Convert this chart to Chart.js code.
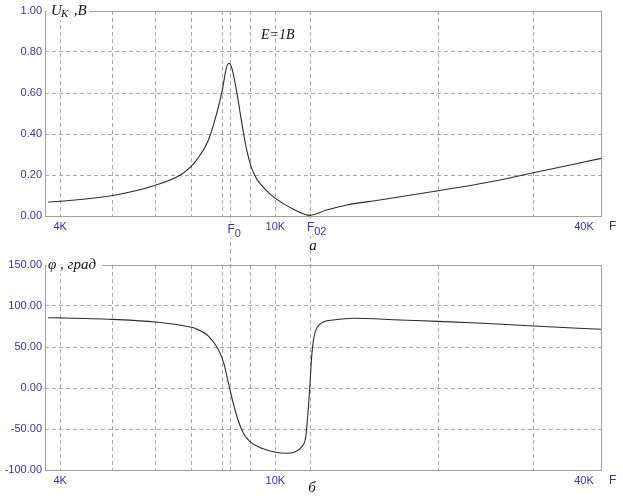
<!DOCTYPE html>
<html><head><meta charset="utf-8">
<script src="https://cdn.jsdelivr.net/npm/chart.js@4.4.1/dist/chart.umd.min.js"></script>
<style>
html,body{margin:0;padding:0;background:#fff;}
#wrap{position:relative;width:623px;height:498px;overflow:hidden;}
canvas{position:absolute;left:0;}
</style></head><body>
<div id="wrap">
<canvas id="cTop" width="623" height="250" style="top:0"></canvas>
<canvas id="cBot" width="623" height="248" style="top:250px"></canvas>
</div>
<script>
// ---- data (frequency in Hz) ----
const freqU   = [3800, 4000, 5000, 6000, 6670, 7000, 7110, 7520, 7790, 7980, 8100, 8200, 8310, 8490, 8670, 8850, 9040, 9240, 9550, 10000, 10800, 11590, 12440, 13550, 15600, 20000, 25000, 30000, 40000];
const valuesU = [0.068, 0.072, 0.100, 0.150, 0.200, 0.245, 0.265, 0.371, 0.501, 0.615, 0.712, 0.745, 0.720, 0.599, 0.452, 0.322, 0.232, 0.180, 0.134, 0.086, 0.033, 0.003, 0.029, 0.054, 0.078, 0.123, 0.167, 0.211, 0.281];

const freqPhi   = [3800, 4000, 5000, 6000, 7000, 7110, 7520, 7850, 8030, 8190, 8360, 8530, 8730, 8970, 9440, 10000, 10420, 10880, 11190, 11380, 11500, 11590, 11670, 11790, 11970, 12300, 12800, 13940, 17000, 20000, 24200, 30000, 40000];
const valuesPhi = [85.7, 85.5, 83.7, 80.5, 74.0, 72.6, 63.2, 46.3, 30.1, 5.7, -18.7, -39.0, -55.3, -65.5, -73.5, -78.4, -79.6, -77.7, -71.5, -59.4, -26.8, 5.7, 38.2, 62.6, 74.8, 80.9, 82.9, 85.0, 82.9, 81.3, 78.9, 75.6, 71.6];

const gridFreqs  = [4000, 5000, 6000, 7000, 8000, 9000, 10000, 20000, 30000, 40000];
const xTickLabels = {4000: '4K', 10000: '10K'};
const xEndLabel  = '40K';
const F0 = 8250, F02 = 11590;
const yTicksU   = [0, 0.2, 0.4, 0.6, 0.8, 1.0];
const yTicksPhi = [-100, -50, 0, 50, 100, 150];

const X_MIN = 3750, X_MAX = 40000;
const BLUE = '#34349e', GRID = '#a8a8a8', BORDER = '#a0a0a0', LINE = '#2a2a2a';
const TICKFONT = {family: '"Liberation Sans", Arial, sans-serif', size: 11};
const SERIF_I = 'italic 15px "Liberation Serif", "Times New Roman", serif';

function xScale(height) {
  return {
    type: 'logarithmic', min: X_MIN, max: X_MAX,
    afterBuildTicks: s => { s.ticks = gridFreqs.map(v => ({value: v})); },
    afterFit: s => { s.height = height; },
    grid: {color: GRID, drawTicks: false},
    border: {display: false, dash: [4,3]},
    ticks: {color: BLUE, font: TICKFONT, padding: 4, autoSkip: false, maxRotation: 0,
      callback: v => xTickLabels[v] || ''}
  };
}
function yScale(ticks) {
  return {
    min: ticks[0], max: ticks[ticks.length - 1],
    afterBuildTicks: s => { s.ticks = ticks.map(v => ({value: v})); },
    afterFit: s => { s.width = 45; },
    grid: {color: GRID, drawTicks: false},
    border: {display: false, dash: [4,3]},
    ticks: {color: BLUE, font: TICKFONT, padding: 3, callback: v => Number(v).toFixed(2)}
  };
}

function drawMarkerLabel(ctx, x, y, main, sub) {
  ctx.font = '12px "Liberation Sans", Arial, sans-serif';
  const w1 = ctx.measureText(main).width;
  ctx.font = '11px "Liberation Sans", Arial, sans-serif';
  const w2 = ctx.measureText(sub).width;
  const x0 = x - w1 / 2;
  ctx.fillStyle = '#fff';
  ctx.fillRect(x0 - 1, y - 10, w1 + w2 + 2, 15);
  ctx.fillStyle = BLUE;
  ctx.textAlign = 'left'; ctx.textBaseline = 'alphabetic';
  ctx.font = '12px "Liberation Sans", Arial, sans-serif';
  ctx.fillText(main, x0, y);
  ctx.font = '11px "Liberation Sans", Arial, sans-serif';
  ctx.fillText(sub, x0 + w1, y + 4);
}

function overlay(kind) {
  return {
    id: 'overlay_' + kind,
    beforeDatasetsDraw(chart) {
      const {ctx, chartArea: a, scales: {x}} = chart;
      ctx.save();
      ctx.lineWidth = 1; ctx.strokeStyle = GRID; ctx.setLineDash([4,3]);
      for (const f of [F0, F02]) {
        const px = Math.round(x.getPixelForValue(f)) + 0.5;
        ctx.beginPath();
        if (kind === 'top') { ctx.moveTo(px, a.top); ctx.lineTo(px, chart.height); }
        else { ctx.moveTo(px, 0); ctx.lineTo(px, a.bottom); }
        ctx.stroke();
      }
      ctx.setLineDash([]); ctx.strokeStyle = BORDER;
      ctx.strokeRect(Math.round(a.left) + 0.5, Math.round(a.top) + 0.5,
                     Math.round(a.width), Math.round(a.height));
      ctx.restore();
    },
    afterDraw(chart) {
      const {ctx, chartArea: a, scales: {x}} = chart;
      ctx.save();
      ctx.fillStyle = BLUE; ctx.font = '11px "Liberation Sans", Arial, sans-serif';
      ctx.textBaseline = 'middle'; ctx.textAlign = 'center';
      const ly = a.bottom + 11;
      ctx.fillText(xEndLabel, x.getPixelForValue(X_MAX) - 17, ly);
      ctx.font = '12px "Liberation Sans", Arial, sans-serif';
      ctx.textAlign = 'left';
      ctx.fillText('F', a.right + 8, ly);
      ctx.textBaseline = 'alphabetic';
      if (kind === 'top') {
        drawMarkerLabel(ctx, x.getPixelForValue(F0) + 1, a.bottom + 17, 'F', '0');
        drawMarkerLabel(ctx, x.getPixelForValue(F02) + 0.5, a.bottom + 15, 'F', '02');
        ctx.fillStyle = '#fff'; ctx.fillRect(a.left + 2, a.top - 8, 42, 17);
        ctx.fillStyle = '#111'; ctx.textAlign = 'left';
        ctx.font = SERIF_I; ctx.fillText('U', a.left + 6, a.top + 4);
        ctx.font = 'italic 11px "Liberation Serif", "Times New Roman", serif';
        ctx.fillText('K', a.left + 16, a.top + 6);
        ctx.font = SERIF_I; ctx.fillText(' ,B', a.left + 25, a.top + 4);
        ctx.font = 'italic 14px "Liberation Serif", "Times New Roman", serif';
        ctx.fillText('E=1B', 261, 39);
        ctx.font = SERIF_I; ctx.textAlign = 'center';
        ctx.fillStyle = '#fff'; ctx.fillRect(307, 241, 12, 11);
        ctx.fillStyle = '#111';
        ctx.fillText('а', x.getPixelForValue(F02) + 3, 250);
      } else {
        ctx.fillStyle = '#fff'; ctx.fillRect(a.left + 2, a.top - 8, 55, 17);
        ctx.fillStyle = '#111'; ctx.textAlign = 'left';
        ctx.font = SERIF_I; ctx.fillText('φ , град', a.left + 3, a.top + 4);
        ctx.textAlign = 'center';
        ctx.fillText('б', x.getPixelForValue(F02) + 2, 242);
      }
      ctx.restore();
    }
  };
}

function makeChart(id, kind, fx, fy, yTicks, padTop, xHeight) {
  return new Chart(document.getElementById(id), {
    type: 'scatter',
    data: {datasets: [{
      data: fx.map((f, i) => ({x: f, y: fy[i]})),
      showLine: true, borderColor: LINE, borderWidth: 1.1, pointRadius: 0,
      cubicInterpolationMode: 'monotone', fill: false
    }]},
    options: {
      responsive: false, animation: false, devicePixelRatio: 1, events: [],
      layout: {padding: {top: padTop, right: 22, left: 0, bottom: 0}},
      plugins: {legend: {display: false}, tooltip: {enabled: false}},
      scales: {x: xScale(xHeight), y: yScale(yTicks)}
    },
    plugins: [overlay(kind)]
  });
}

makeChart('cTop', 'top', freqU, valuesU, yTicksU, 11, 34);
makeChart('cBot', 'bot', freqPhi, valuesPhi, yTicksPhi, 15, 28);
</script>
</body></html>
